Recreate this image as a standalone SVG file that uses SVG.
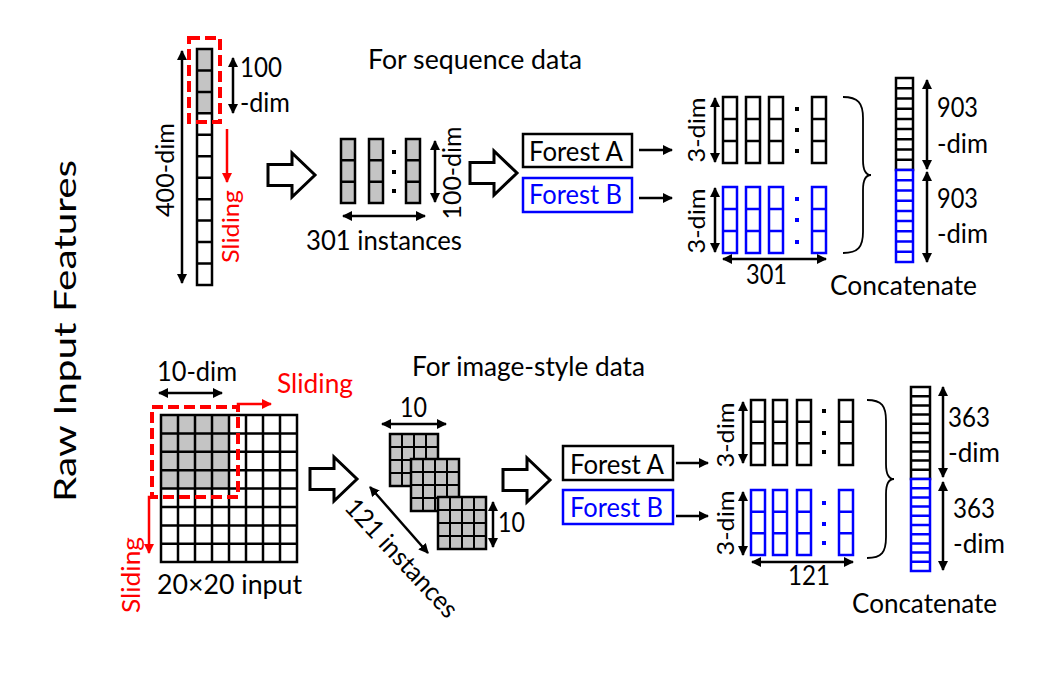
<svg xmlns="http://www.w3.org/2000/svg" xmlns:xlink="http://www.w3.org/1999/xlink" width="1058" height="674" viewBox="0 0 1058 674">
<style>
text{font-family:Lato,"Open Sans","Liberation Sans",sans-serif;fill:#000}
.red{fill:#ff0000}
.blu{fill:#0000ff}
.k{fill:none;stroke:#000;stroke-width:2.5}
.kw{fill:#fff;stroke:#000;stroke-width:2.5}
.b{fill:none;stroke:#0000ff;stroke-width:2.5}
.bw{fill:#fff;stroke:#0000ff;stroke-width:2.5}
.gr{fill:#c4c4c4;stroke:none}
.gk{fill:#c4c4c4;stroke:#000;stroke-width:2.5}
.dot{fill:#000}
.bdot{fill:#0000ff}
.blk{fill:#fff;stroke:#000;stroke-width:3;stroke-linejoin:miter}
.rd{fill:none;stroke:#ff0000;stroke-width:4;stroke-dasharray:11 5}
.ar{fill:none;stroke:#000;stroke-width:2.5;marker-end:url(#ah)}
.ar2{fill:none;stroke:#000;stroke-width:2.5;marker-start:url(#ah);marker-end:url(#ah)}
.arr{fill:none;stroke:#ff0000;stroke-width:2.5;marker-end:url(#ahr)}
.br{fill:none;stroke:#000;stroke-width:1.8}
</style>
<defs>
<marker id="ah" viewBox="0 0 10 10" refX="9" refY="5" markerWidth="10" markerHeight="10" markerUnits="userSpaceOnUse" orient="auto-start-reverse"><path d="M0,0 L10,5 L0,10 z" fill="#000"/></marker>
<marker id="ahr" viewBox="0 0 10 10" refX="9" refY="5" markerWidth="10" markerHeight="10" markerUnits="userSpaceOnUse" orient="auto-start-reverse"><path d="M0,0 L10,5 L0,10 z" fill="#ff0000"/></marker>
<g id="patch">
<rect x="0" y="0" width="48" height="52" class="gk" stroke-width="2"/>
<path d="M12 0v52M24 0v52M36 0v52M0 13h48M0 26h48M0 39h48" stroke="#000" stroke-width="2" fill="none"/>
</g>
</defs>
<rect width="1058" height="674" fill="#fff"/>

<g id="title">
<text transform="translate(76,331) rotate(-90)" font-size="31" text-anchor="middle" textLength="342" lengthAdjust="spacingAndGlyphs">Raw Input Features</text>
</g>

<!-- ===== TOP: sequence data ===== -->
<g id="seq-heading"><text x="368" y="69" font-size="26" textLength="214" lengthAdjust="spacingAndGlyphs">For sequence data</text></g>

<g id="seq-input">
<rect x="197" y="49" width="15" height="236" fill="#fff"/>
<rect x="197" y="49" width="15" height="64.35" class="gr"/>
<path d="M197 70.45h15M197 91.9h15M197 113.35h15M197 134.8h15M197 156.25h15M197 177.7h15M197 199.15h15M197 220.6h15M197 242.05h15M197 263.5h15" class="k"/>
<rect x="197" y="49" width="15" height="236" class="k"/>
<rect x="189" y="38" width="31" height="84" class="rd"/>
<text transform="translate(174,170) rotate(-90)" font-size="25" text-anchor="middle" textLength="94" lengthAdjust="spacingAndGlyphs">400-dim</text>
<text x="240" y="77" font-size="26" textLength="42" lengthAdjust="spacingAndGlyphs">100</text>
<text x="240" y="112" font-size="26" textLength="50" lengthAdjust="spacingAndGlyphs">-dim</text>
<text class="red" transform="translate(239,226.5) rotate(-90)" font-size="24" text-anchor="middle" textLength="73" lengthAdjust="spacingAndGlyphs">Sliding</text>
</g>

<g id="seq-arrow1"><polygon class="blk" points="268,164.5 292,164.5 292,153 315,175 292,197 292,185.5 268,185.5"/></g>

<g id="seq-instances">
<rect x="341" y="139" width="14" height="64" class="gk"/>
<rect x="369" y="139" width="14" height="64" class="gk"/>
<rect x="406" y="139" width="14" height="64" class="gk"/>
<path d="M341 160.3h14M341 181.7h14M369 160.3h14M369 181.7h14M406 160.3h14M406 181.7h14" class="k"/>
<rect x="392" y="150" width="4" height="4" class="dot"/>
<rect x="392" y="170" width="4" height="4" class="dot"/>
<rect x="392" y="189" width="4" height="4" class="dot"/>
<text transform="translate(461,173) rotate(-90)" font-size="25" text-anchor="middle" textLength="93" lengthAdjust="spacingAndGlyphs">100-dim</text>
<text x="306" y="250" font-size="26" textLength="156" lengthAdjust="spacingAndGlyphs">301 instances</text>
</g>

<g id="seq-arrow2"><polygon class="blk" points="470,162.5 494,162.5 494,151 517,173 494,195 494,183.5 470,183.5"/></g>

<g id="seq-forestA">
<rect x="523" y="134" width="109" height="33" class="kw"/>
<text x="529" y="161" font-size="26" textLength="94" lengthAdjust="spacingAndGlyphs">Forest A</text>
</g>
<g id="seq-forestB">
<rect x="523" y="178" width="109" height="34" class="bw"/>
<text class="blu" x="529" y="204" font-size="26" textLength="93" lengthAdjust="spacingAndGlyphs">Forest B</text>
</g>

<g id="seq-outA">
<rect x="723" y="97" width="14" height="66" class="k"/>
<rect x="746" y="97" width="14" height="66" class="k"/>
<rect x="769" y="97" width="14" height="66" class="k"/>
<rect x="812" y="97" width="14" height="66" class="k"/>
<path d="M723 119h14M723 141h14M746 119h14M746 141h14M769 119h14M769 141h14M812 119h14M812 141h14" class="k"/>
<rect x="795" y="107" width="4" height="4" class="dot"/>
<rect x="795" y="128" width="4" height="4" class="dot"/>
<rect x="795" y="149" width="4" height="4" class="dot"/>
<text transform="translate(705,130) rotate(-90)" font-size="24" text-anchor="middle" textLength="65" lengthAdjust="spacingAndGlyphs">3-dim</text>
</g>
<g id="seq-outB">
<rect x="723" y="187" width="14" height="66" class="b"/>
<rect x="746" y="187" width="14" height="66" class="b"/>
<rect x="769" y="187" width="14" height="66" class="b"/>
<rect x="812" y="187" width="14" height="66" class="b"/>
<path d="M723 209h14M723 231h14M746 209h14M746 231h14M769 209h14M769 231h14M812 209h14M812 231h14" class="b"/>
<rect x="795" y="197" width="4" height="4" class="bdot"/>
<rect x="795" y="218" width="4" height="4" class="bdot"/>
<rect x="795" y="240" width="4" height="4" class="bdot"/>
<text transform="translate(705,221) rotate(-90)" font-size="24" text-anchor="middle" textLength="65" lengthAdjust="spacingAndGlyphs">3-dim</text>
<text x="746" y="284" font-size="26" textLength="41" lengthAdjust="spacingAndGlyphs">301</text>
</g>

<g id="seq-concat">
<path class="br" d="M843,97 C858,97 863,103 863,118 L863,160 C863,170 866,175 871,175 C866,175 863,180 863,190 L863,232 C863,247 858,253 843,253"/>
<rect x="896" y="78" width="17" height="92" class="kw" stroke-width="2"/>
<path d="M896 88.2h17M896 98.4h17M896 108.7h17M896 118.9h17M896 129.1h17M896 139.3h17M896 149.6h17M896 159.8h17" class="k" stroke-width="2"/>
<rect x="896" y="170" width="17" height="92" class="bw" stroke-width="2"/>
<path d="M896 180.2h17M896 190.4h17M896 200.7h17M896 210.9h17M896 221.1h17M896 231.3h17M896 241.6h17M896 251.8h17" class="b" stroke-width="2"/>
<text x="937" y="117" font-size="26" textLength="41" lengthAdjust="spacingAndGlyphs">903</text>
<text x="937" y="153" font-size="26" textLength="51" lengthAdjust="spacingAndGlyphs">-dim</text>
<text x="937" y="208" font-size="26" textLength="41" lengthAdjust="spacingAndGlyphs">903</text>
<text x="937" y="243" font-size="26" textLength="51" lengthAdjust="spacingAndGlyphs">-dim</text>
<text x="830" y="295" font-size="27" textLength="147" lengthAdjust="spacingAndGlyphs">Concatenate</text>
</g>

<!-- ===== BOTTOM: image-style data ===== -->
<g id="img-heading"><text x="412" y="376" font-size="27" textLength="233" lengthAdjust="spacingAndGlyphs">For image-style data</text></g>

<g id="img-input">
<rect x="161" y="415" width="136" height="147" fill="#fff"/>
<rect x="161" y="415" width="68" height="73.6" class="gr"/>
<path d="M178 415v147M195 415v147M212 415v147M229 415v147M246 415v147M263 415v147M280 415v147M161 433.4h136M161 451.8h136M161 470.2h136M161 488.6h136M161 507h136M161 525.4h136M161 543.8h136" class="k"/>
<rect x="161" y="415" width="136" height="147" class="k"/>
<rect x="152" y="407" width="86" height="90" class="rd"/>
<text x="157" y="381" font-size="26" textLength="80" lengthAdjust="spacingAndGlyphs">10-dim</text>
<text class="red" x="277" y="393" font-size="26" textLength="76" lengthAdjust="spacingAndGlyphs">Sliding</text>
<text class="red" transform="translate(140,575) rotate(-90)" font-size="25" text-anchor="middle" textLength="76" lengthAdjust="spacingAndGlyphs">Sliding</text>
<text x="157" y="594" font-size="27" textLength="145" lengthAdjust="spacingAndGlyphs">20×20 input</text>
</g>

<g id="img-arrow1"><polygon class="blk" points="310,468.5 334,468.5 334,457 357,479 334,501 334,489.5 310,489.5"/></g>

<g id="img-instances">
<use xlink:href="#patch" href="#patch" x="390" y="434"/>
<use xlink:href="#patch" href="#patch" x="411" y="459"/>
<use xlink:href="#patch" href="#patch" x="438" y="497"/>
<text x="400" y="417" font-size="26" textLength="27" lengthAdjust="spacingAndGlyphs">10</text>
<text x="498" y="532" font-size="26" textLength="27" lengthAdjust="spacingAndGlyphs">10</text>
<text transform="translate(395,564) rotate(47)" font-size="26" text-anchor="middle" textLength="152" lengthAdjust="spacingAndGlyphs">121 instances</text>
</g>

<g id="img-arrow2"><polygon class="blk" points="503,469.5 527,469.5 527,458 550,480 527,502 527,490.5 503,490.5"/></g>

<g id="img-forestA">
<rect x="563" y="446" width="110" height="34" class="kw"/>
<text x="570" y="474" font-size="26" textLength="94" lengthAdjust="spacingAndGlyphs">Forest A</text>
</g>
<g id="img-forestB">
<rect x="563" y="490" width="110" height="34" class="bw"/>
<text class="blu" x="570" y="517" font-size="26" textLength="93" lengthAdjust="spacingAndGlyphs">Forest B</text>
</g>

<g id="img-outA">
<rect x="751" y="400" width="14" height="65" class="k"/>
<rect x="773" y="400" width="14" height="65" class="k"/>
<rect x="797" y="400" width="14" height="65" class="k"/>
<rect x="839" y="400" width="14" height="65" class="k"/>
<path d="M751 421.7h14M751 443.3h14M773 421.7h14M773 443.3h14M797 421.7h14M797 443.3h14M839 421.7h14M839 443.3h14" class="k"/>
<rect x="822" y="409" width="4" height="4" class="dot"/>
<rect x="822" y="431" width="4" height="4" class="dot"/>
<rect x="822" y="450" width="4" height="4" class="dot"/>
<text transform="translate(734,435) rotate(-90)" font-size="24" text-anchor="middle" textLength="65" lengthAdjust="spacingAndGlyphs">3-dim</text>
</g>
<g id="img-outB">
<rect x="751" y="490" width="14" height="65" class="b"/>
<rect x="773" y="490" width="14" height="65" class="b"/>
<rect x="797" y="490" width="14" height="65" class="b"/>
<rect x="839" y="490" width="14" height="65" class="b"/>
<path d="M751 511.7h14M751 533.3h14M773 511.7h14M773 533.3h14M797 511.7h14M797 533.3h14M839 511.7h14M839 533.3h14" class="b"/>
<rect x="822" y="501" width="4" height="4" class="bdot"/>
<rect x="822" y="522" width="4" height="4" class="bdot"/>
<rect x="822" y="541" width="4" height="4" class="bdot"/>
<text transform="translate(734,523) rotate(-90)" font-size="24" text-anchor="middle" textLength="65" lengthAdjust="spacingAndGlyphs">3-dim</text>
<text x="788" y="585" font-size="26" textLength="42" lengthAdjust="spacingAndGlyphs">121</text>
</g>

<g id="img-concat">
<path class="br" d="M867,400 C882,400 886,406 886,421 L886,464 C886,474 889,479 894,479 C889,479 886,484 886,494 L886,537 C886,552 882,558 867,558"/>
<rect x="911" y="387" width="19" height="92" class="kw" stroke-width="2"/>
<path d="M911 396.2h19M911 405.4h19M911 414.6h19M911 423.8h19M911 433h19M911 442.2h19M911 451.4h19M911 460.6h19M911 469.8h19" class="k" stroke-width="2"/>
<rect x="911" y="479" width="19" height="92" class="bw" stroke-width="2"/>
<path d="M911 488.2h19M911 497.4h19M911 506.6h19M911 515.8h19M911 525h19M911 534.2h19M911 543.4h19M911 552.6h19M911 561.8h19" class="b" stroke-width="2"/>
<text x="948" y="427" font-size="26" textLength="42" lengthAdjust="spacingAndGlyphs">363</text>
<text x="948" y="462" font-size="26" textLength="52" lengthAdjust="spacingAndGlyphs">-dim</text>
<text x="953" y="518" font-size="26" textLength="42" lengthAdjust="spacingAndGlyphs">363</text>
<text x="953" y="553" font-size="26" textLength="52" lengthAdjust="spacingAndGlyphs">-dim</text>
<text x="852" y="613" font-size="27" textLength="145" lengthAdjust="spacingAndGlyphs">Concatenate</text>
</g>

<g id="connectors">
<!-- top -->
<path class="ar2" d="M182 51V283"/>
<path class="ar2" d="M233 58V113"/>
<path class="arr" d="M227 129V182"/>
<path class="ar2" d="M435 141V202"/>
<path class="ar2" d="M343 216H425"/>
<path class="ar" d="M639 150H672"/>
<path class="ar" d="M639 198H672"/>
<path class="ar2" d="M715 98V162"/>
<path class="ar2" d="M715 188V252"/>
<path class="ar2" d="M723 259H826"/>
<path class="ar2" d="M927 80V169"/>
<path class="ar2" d="M927 172V262"/>
<!-- bottom -->
<path class="ar2" d="M159 393H222"/>
<path class="arr" d="M238 409V404H271"/>
<path class="arr" d="M152 497H149V553"/>
<path class="ar2" d="M382 424H446"/>
<path class="ar2" d="M493 502V547"/>
<path class="ar2" d="M370 487L428 553"/>
<path class="ar" d="M676 463H708"/>
<path class="ar" d="M676 516H708"/>
<path class="ar2" d="M743 402V463"/>
<path class="ar2" d="M743 492V555"/>
<path class="ar2" d="M752 562H853"/>
<path class="ar2" d="M943 387V477"/>
<path class="ar2" d="M943 482V570"/>
</g>
</svg>
